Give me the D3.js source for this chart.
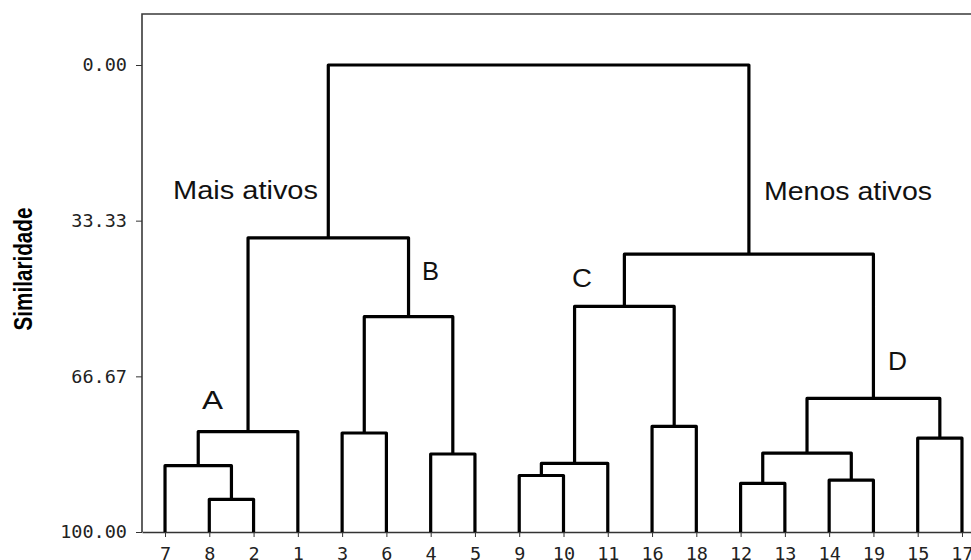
<!DOCTYPE html>
<html>
<head>
    <meta charset='utf-8'>
    <title>Dendrograma - Similaridade</title>
    <script src='https://cdn.jsdelivr.net/npm/d3@7'></script>
    <style type='text/css'>
        html, body {
            margin: 0;
            padding: 0;
            background: white;
            overflow: hidden;
        }
        svg {
            display: block;
        }
        .tick text, .leaf text {
            font-family: 'DejaVu Sans Mono', 'Liberation Mono', monospace;
            fill: #222;
        }
        .note {
            font-family: 'Liberation Sans', Arial, sans-serif;
            fill: #111;
        }
    </style>
</head>
<body>
    <script>
        // Leaf order along the bottom axis
        const leaves = ['7', '8', '2', '1', '3', '6', '4', '5', '9', '10', '11', '16', '18', '12', '13', '14', '19', '15', '17'];

        // Merge steps: [left child, right child, similarity]; 'mN' points to the N-th merge
        const mergeLeft  = ['8', '7',  'm1', '3',  '4',  'm3', 'm2', '9',  'm7', '16', 'm8', '12', '14', 'm11', '15', 'm13', 'm10', 'm6'];
        const mergeRight = ['2', 'm0', '1',  '6',  '5',  'm4', 'm5', '10', '11', '18', 'm9', '13', '19', 'm12', '17', 'm14', 'm15', 'm16'];
        const mergeSim   = [93.0, 85.8, 78.5, 78.8, 83.3, 53.9, 37.0, 87.9, 85.3, 77.4, 51.7, 89.6, 88.9, 83.1, 79.9, 71.4, 40.5, 0];

        // Axis ticks
        const yTicks = [0, 33.33, 66.67, 100];

        // page setup
        const width = 971, height = 560;
        const svg = d3.select('body').append('svg')
            .attr('width', width)
            .attr('height', height);

        const plotLeft = 142, plotRight = 985, plotTop = 14;

        // scales
        const x = d3.scalePoint()
            .domain(leaves)
            .range([plotLeft, plotRight])
            .padding(0.52);
        const y = d3.scaleLinear()
            .domain([0, 100])
            .range([65, 532]);

        // frame: top border and left axis line
        svg.append('path')
            .attr('d', `M${plotLeft},${y(100)}V${plotTop}H${plotRight}`)
            .attr('fill', 'none')
            .attr('stroke', '#3a3a3a')
            .attr('stroke-width', 1.6);

        // left axis
        const yAxis = svg.append('g')
            .attr('transform', `translate(${plotLeft},0)`)
            .call(d3.axisLeft(y)
                .tickValues(yTicks)
                .tickFormat(d3.format('.2f'))
                .tickSize(6)
                .tickSizeOuter(0)
                .tickPadding(9));
        yAxis.select('.domain').remove();
        yAxis.selectAll('.tick line').attr('stroke', '#333');
        yAxis.selectAll('.tick text')
            .attr('font-size', 18.5)
            .attr('fill', '#222');

        // bottom axis with leaf labels
        const xAxis = svg.append('g')
            .attr('class', 'leaf')
            .attr('transform', `translate(0,${y(100)})`)
            .call(d3.axisBottom(x)
                .tickSize(5)
                .tickSizeOuter(0)
                .tickPadding(10));
        xAxis.select('.domain').attr('stroke', '#333').attr('stroke-width', 1.4);
        xAxis.selectAll('.tick line').attr('stroke', '#333');
        xAxis.selectAll('.tick text')
            .attr('font-size', 18.5)
            .attr('fill', '#222');

        // build dendrogram node positions
        const pos = {};
        leaves.forEach(l => { pos[l] = { x: x(l), y: y(100) }; });
        const links = mergeSim.map((s, i) => {
            const a = pos[mergeLeft[i]], b = pos[mergeRight[i]];
            const node = { x: (a.x + b.x) / 2, y: y(s) };
            pos['m' + i] = node;
            return { a, b, node };
        });

        // draw the brackets
        svg.append('g')
            .attr('fill', 'none')
            .attr('stroke', '#000')
            .attr('stroke-width', 3.2)
            .attr('stroke-linejoin', 'round')
            .selectAll('path')
            .data(links)
            .join('path')
            .attr('d', d => `M${d.a.x},${d.a.y}V${d.node.y}H${d.b.x}V${d.b.y}`);
        // root stem above the top merge is not drawn in the reference

        // axis title
        svg.append('text')
            .attr('class', 'note')
            .attr('transform', 'translate(32,269) rotate(-90)')
            .attr('text-anchor', 'middle')
            .attr('font-size', 26)
            .attr('font-weight', 'bold')
            .attr('textLength', 123)
            .attr('lengthAdjust', 'spacingAndGlyphs')
            .style('fill', '#000')
            .text('Similaridade');

        // annotations (slightly wide glyphs, as in the reference)
        const notes = [
            { t: 'Mais ativos',  x: 173, y: 199, w: 145 },
            { t: 'Menos ativos', x: 764, y: 200, w: 168 },
            { t: 'A', x: 202, y: 409, w: 21 },
            { t: 'B', x: 422, y: 280, w: 17 },
            { t: 'C', x: 572, y: 287, w: 20 },
            { t: 'D', x: 888, y: 370, w: 19 }
        ];
        svg.append('g').selectAll('text')
            .data(notes)
            .join('text')
            .attr('class', 'note')
            .attr('x', d => d.x)
            .attr('y', d => d.y)
            .attr('font-size', 26)
            .attr('textLength', d => d.w)
            .attr('lengthAdjust', 'spacingAndGlyphs')
            .text(d => d.t);
    </script>
</body>
</html>
